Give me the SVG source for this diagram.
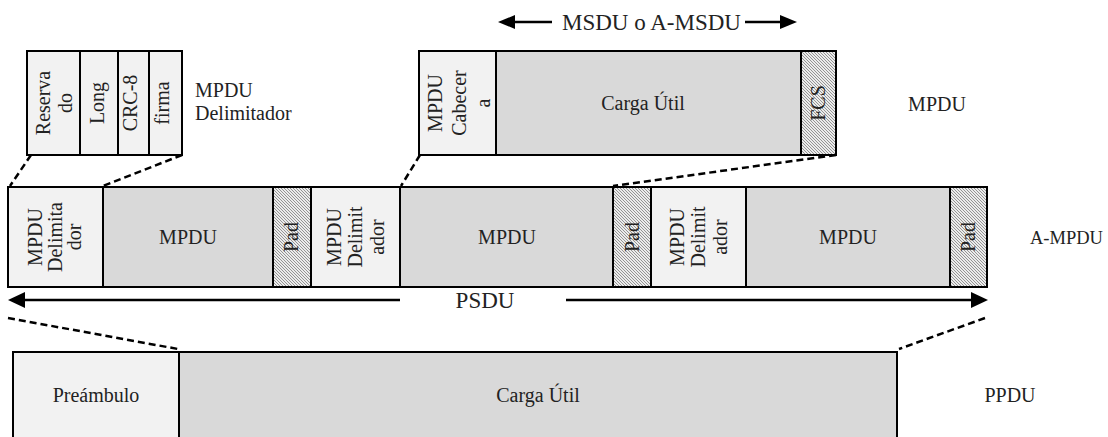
<svg xmlns="http://www.w3.org/2000/svg" width="1108" height="437" viewBox="0 0 1108 437">
<style>
  .t { font-family: "Liberation Serif", "Times New Roman", serif; font-size: 20px; fill: #222; }
  .big { font-size: 23px; }
  .mid { text-anchor: middle; }
  .light { fill: #f2f2f2; stroke: #000; stroke-width: 2; }
  .dark { fill: #d9d9d9; stroke: #000; stroke-width: 2; }
  .hatch { fill: url(#hatch); stroke: #000; stroke-width: 2; }
  .dash { stroke: #000; stroke-width: 2.5; stroke-dasharray: 7 4; fill: none; }
  .arr { stroke: #000; stroke-width: 2.5; fill: none; }
  .head { fill: #000; }
</style>
<defs>
  <pattern id="hatch" patternUnits="userSpaceOnUse" width="3" height="3">
    <rect width="3" height="3" fill="#ececec"/>
    <path d="M0,0 L3,3 M-1,2 L1,4 M2,-1 L4,1" stroke="#777" stroke-width="0.75"/>
  </pattern>
</defs>
<rect width="1108" height="437" fill="#fff"/>

<!-- Top: MPDU Delimiter -->
<g id="delimiter-detail">
  <rect class="light" x="27" y="51" width="53" height="104"/>
  <rect class="light" x="80" y="51" width="38" height="104"/>
  <rect class="light" x="118" y="51" width="31" height="104"/>
  <rect class="light" x="149" y="51" width="33" height="104"/>
  <text class="t mid" transform="translate(50,103) rotate(-90)"><tspan x="0" y="0">Reserva</tspan><tspan x="0" dy="22">do</tspan></text>
  <text class="t mid" transform="translate(104,103) rotate(-90)">Long</text>
  <text class="t mid" transform="translate(137,103) rotate(-90)">CRC-8</text>
  <text class="t mid" transform="translate(169,103) rotate(-90)">firma</text>
  <text class="t" x="195" y="97">MPDU</text>
  <text class="t" x="195" y="120">Delimitador</text>
</g>

<!-- Top: MPDU detail -->
<g id="mpdu-detail">
  <rect class="light" x="419" y="51" width="77" height="104"/>
  <rect class="dark" x="496" y="51" width="305" height="104"/>
  <rect class="hatch" x="801" y="51" width="35" height="104"/>
  <text class="t mid" transform="translate(442,103) rotate(-90)"><tspan x="0" y="0">MPDU</tspan><tspan x="0" dy="24">Cabecer</tspan><tspan x="0" dy="24">a</tspan></text>
  <text class="t mid" x="643" y="110">Carga Útil</text>
  <text class="t mid" transform="translate(825,103) rotate(-90)">FCS</text>
  <text class="t mid" x="937" y="111">MPDU</text>
</g>

<g id="msdu-label">
  <text class="t big" x="562" y="30">MSDU o A-MSDU</text>
</g>

<!-- Middle: A-MPDU -->
<g id="a-mpdu">
  <rect class="light" x="8" y="187" width="95" height="100"/>
  <rect class="dark" x="103" y="187" width="170" height="100"/>
  <rect class="hatch" x="273" y="187" width="38" height="100"/>
  <rect class="light" x="311" y="187" width="89" height="100"/>
  <rect class="dark" x="400" y="187" width="213" height="100"/>
  <rect class="hatch" x="613" y="187" width="38" height="100"/>
  <rect class="light" x="651" y="187" width="95" height="100"/>
  <rect class="dark" x="746" y="187" width="204" height="100"/>
  <rect class="hatch" x="950" y="187" width="37" height="100"/>
  <text class="t mid" transform="translate(42,237) rotate(-90)"><tspan x="0" y="0">MPDU</tspan><tspan x="0" dy="19.5">Delimita</tspan><tspan x="0" dy="19.5">dor</tspan></text>
  <text class="t mid" x="188" y="244">MPDU</text>
  <text class="t mid" transform="translate(298,237) rotate(-90)">Pad</text>
  <text class="t mid" transform="translate(340.5,237) rotate(-90)"><tspan x="0" y="0">MPDU</tspan><tspan x="0" dy="21.5">Delimit</tspan><tspan x="0" dy="21.5">ador</tspan></text>
  <text class="t mid" x="507" y="244">MPDU</text>
  <text class="t mid" transform="translate(638.5,237) rotate(-90)">Pad</text>
  <text class="t mid" transform="translate(683.5,237) rotate(-90)"><tspan x="0" y="0">MPDU</tspan><tspan x="0" dy="21.5">Delimit</tspan><tspan x="0" dy="21.5">ador</tspan></text>
  <text class="t mid" x="848" y="244">MPDU</text>
  <text class="t mid" transform="translate(975,237) rotate(-90)">Pad</text>
  <text class="t" x="1030" y="244" style="font-size:18.5px">A-MPDU</text>
</g>

<g id="psdu-label">
  <text class="t big mid" x="485" y="308">PSDU</text>
</g>

<!-- Bottom: PPDU -->
<g id="ppdu">
  <rect class="light" x="13" y="352" width="166" height="90"/>
  <rect class="dark" x="179" y="352" width="718" height="90"/>
  <text class="t mid" x="96" y="402">Preámbulo</text>
  <text class="t mid" x="538" y="402">Carga Útil</text>
  <text class="t mid" x="1010" y="402">PPDU</text>
</g>

<!-- Connectors -->
<g id="connectors">
  <line class="dash" x1="31" y1="155" x2="10" y2="186"/>
  <line class="dash" x1="182" y1="155" x2="103" y2="186"/>
  <line class="dash" x1="420" y1="155" x2="401" y2="186"/>
  <line class="dash" x1="836" y1="155" x2="613" y2="186"/>
  <line class="dash" x1="8" y1="318" x2="178" y2="349"/>
  <line class="dash" x1="985" y1="318" x2="899" y2="349"/>

  <line class="arr" x1="24" y1="300" x2="400" y2="300"/>
  <polygon class="head" points="8,300 25,292 25,308"/>
  <line class="arr" x1="566" y1="300" x2="972" y2="300"/>
  <polygon class="head" points="988,300 971,292 971,308"/>

  <line class="arr" x1="513" y1="22" x2="552" y2="22"/>
  <polygon class="head" points="498,22 515,15 515,29"/>
  <line class="arr" x1="745" y1="22" x2="782" y2="22"/>
  <polygon class="head" points="797,22 780,15 780,29"/>
</g>
</svg>
